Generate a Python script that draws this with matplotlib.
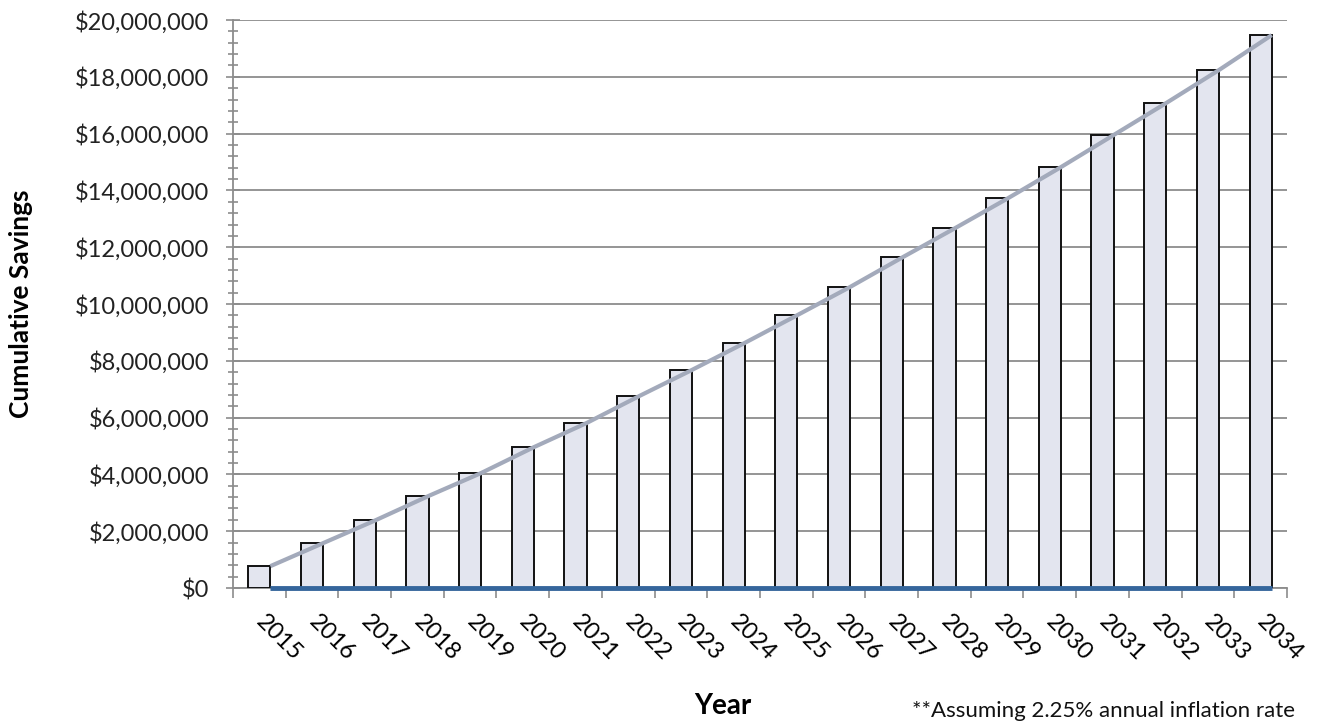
import matplotlib.pyplot as plt
from matplotlib.ticker import FuncFormatter, MultipleLocator
import numpy as np

# Cumulative savings by year
years = [str(y) for y in range(2015, 2035)]
savings = [0.77, 1.58, 2.39, 3.24, 4.05, 4.96, 5.81, 6.76, 7.68, 8.63,
           9.61, 10.6, 11.65, 12.68, 13.73, 14.82, 15.95, 17.08, 18.24, 19.47]
savings = [v * 1e6 for v in savings]
baseline = [0] * len(years)

plt.rcParams['font.family'] = ['Lato', 'DejaVu Sans']

fig = plt.figure(figsize=(13.2, 7.23), dpi=100)
ax = fig.add_axes([0.1765, 0.1867, 0.7985, 0.7856])

x = np.arange(len(years))
bar_w = 0.42
ax.bar(x, savings, width=bar_w, color='#e3e5ef', edgecolor='#111111',
       linewidth=1.4, zorder=3)
# trend line drawn through the top-right corners of the bars
ax.plot(x + bar_w / 2, savings, color='#a3aabb', linewidth=3, zorder=4,
        solid_capstyle='butt')
ax.plot(x + bar_w / 2, baseline, color='#35669c', linewidth=3.5, zorder=5,
        solid_capstyle='butt', clip_on=False)

ax.set_xlim(-0.5, len(years) - 0.5)
ax.set_ylim(0, 20e6)

ax.yaxis.set_major_locator(MultipleLocator(2e6))
ax.yaxis.set_minor_locator(MultipleLocator(4e5))
ax.yaxis.set_major_formatter(FuncFormatter(lambda v, p: f'${v:,.0f}'))
ax.grid(axis='y', which='major', color='#8c8c8c', linewidth=1.3, zorder=0)

ax.set_xticks(x)
ax.set_xticklabels(years, rotation=-45, ha='left', va='center',
                   rotation_mode='anchor', fontsize=17)
ax.set_xticks(np.arange(len(years) + 1) - 0.5, minor=True)
ax.tick_params(axis='x', which='major', length=0, pad=22)
ax.tick_params(axis='x', which='minor', length=7, color='#8c8c8c', width=1.2)
ax.tick_params(axis='y', which='both', direction='inout', color='#8c8c8c',
               width=1.2, labelsize=17, labelcolor='#222222', pad=12)
ax.tick_params(axis='y', which='major', length=10)
ax.tick_params(axis='y', which='minor', length=7)

for side in ['top', 'right']:
    ax.spines[side].set_visible(False)
for side in ['left', 'bottom']:
    ax.spines[side].set_color('#8c8c8c')
    ax.spines[side].set_linewidth(1.3)

ax.set_ylabel('Cumulative Savings', fontsize=19, fontweight='bold', labelpad=30)
ax.set_xlabel('Year', fontsize=20, fontweight='bold')
ax.xaxis.set_label_coords(0.465, -0.185)

fig.text(0.691, 0.003, '**Assuming 2.25% annual inflation rate', fontsize=16,
         ha='left', va='bottom', color='#111111')

fig.savefig('out.png', dpi=100)
